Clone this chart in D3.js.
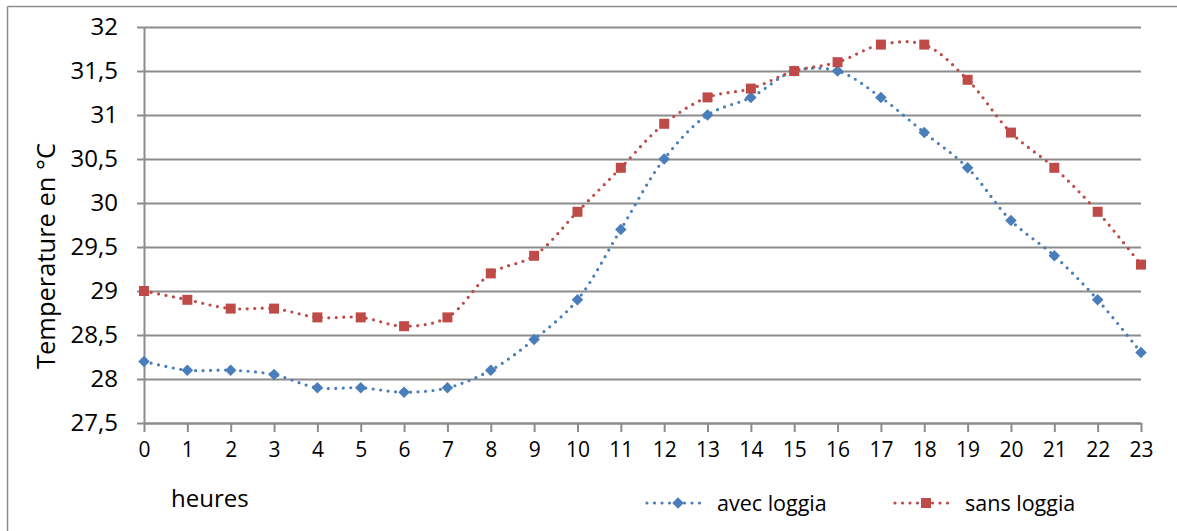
<!DOCTYPE html>
<html><head><meta charset="utf-8">
<script src="https://cdn.jsdelivr.net/npm/d3@7"></script>
<style>
html,body{margin:0;padding:0;background:#fff;}
svg{display:block;}
text{font-family:"Open Sans",sans-serif;fill:#000;}
</style></head>
<body>
<script>
const hours = [0,1,2,3,4,5,6,7,8,9,10,11,12,13,14,15,16,17,18,19,20,21,22,23];
const avecLoggia = [28.2,28.1,28.1,28.05,27.9,27.9,27.85,27.9,28.1,28.45,28.9,29.7,30.5,31.0,31.2,31.5,31.5,31.2,30.8,30.4,29.8,29.4,28.9,28.3];
const sansLoggia = [29.0,28.9,28.8,28.8,28.7,28.7,28.6,28.7,29.2,29.4,29.9,30.4,30.9,31.2,31.3,31.5,31.6,31.8,31.8,31.4,30.8,30.4,29.9,29.3];
const yTicks = [27.5,28,28.5,29,29.5,30,30.5,31,31.5,32];
const seriesNames = ["avec loggia","sans loggia"];
const seriesColors = ["#4a7ebb","#be4b48"];
const xTitle = "heures";
const yTitle = "Temperature en °C";

const W = 1177, H = 531;
const svg = d3.select("body").append("svg").attr("width", W).attr("height", H);

// outer frame
svg.append("line").attr("x1",7.5).attr("x2",7.5).attr("y1",6.5).attr("y2",H).attr("stroke","#8c8c8c").attr("stroke-width",1.5);
svg.append("line").attr("x1",7.5).attr("x2",W).attr("y1",6.5).attr("y2",6.5).attr("stroke","#8c8c8c").attr("stroke-width",1.5);

const x = d3.scaleLinear().domain([0,23]).range([144,1141]);
const y = d3.scaleLinear().domain([27.5,32]).range([423,27]);
const fmt = d => String(d).replace(".", ",");

// gridlines
const grid = svg.append("g").attr("transform","translate(144,0)")
  .call(d3.axisLeft(y).tickValues(yTicks).tickSize(-(1141-144)).tickFormat(""));
grid.select(".domain").remove();
grid.selectAll("line").attr("stroke","#8c8c8c").attr("stroke-width",2);

// y axis
const ya = svg.append("g").attr("transform","translate(144,0)")
  .call(d3.axisLeft(y).tickValues(yTicks).tickSize(7).tickPadding(19).tickSizeOuter(0).tickFormat(fmt));
ya.select(".domain").attr("stroke","#8c8c8c").attr("stroke-width",2);
ya.selectAll("line").attr("stroke","#8c8c8c").attr("stroke-width",2);
ya.selectAll("text").style("font-size","24px").style("font-family","Open Sans").attr("fill","#000");

// x axis
const xa = svg.append("g").attr("transform","translate(0,423)")
  .call(d3.axisBottom(x).tickValues(hours).tickSize(9).tickPadding(10).tickSizeOuter(0).tickFormat(d3.format("d")));
xa.select(".domain").attr("stroke","#8c8c8c").attr("stroke-width",2);
xa.selectAll("line").attr("stroke","#8c8c8c").attr("stroke-width",2);
xa.selectAll("text").style("font-size","21px").style("font-family","Open Sans").attr("fill","#000");

// titles
svg.append("text").attr("x",171).attr("y",507).style("font-size","24px").text(xTitle);
svg.append("text").attr("transform","translate(55,256) rotate(-90)").attr("text-anchor","middle")
  .style("font-size","25.5px").text(yTitle);

const line = d3.line().x((d,i)=>x(hours[i])).y(d=>y(d)).curve(d3.curveCatmullRom.alpha(0.5));
const data = [avecLoggia, sansLoggia];
const diamond = d3.symbol().type(d3.symbolDiamond2).size(85);
const square = d3.symbol().type(d3.symbolSquare).size(100);
const symbols = [diamond, square];

data.forEach((vals, si) => {
  svg.append("path").datum(vals).attr("d", line).attr("fill","none")
    .attr("stroke", seriesColors[si]).attr("stroke-width",3.2)
    .attr("stroke-linecap","round").attr("stroke-dasharray","0 7.5");
  svg.append("g").selectAll("path").data(vals).join("path")
    .attr("transform",(d,i)=>`translate(${x(hours[i])},${y(d)})`)
    .attr("d", symbols[si]).attr("fill", seriesColors[si]);
});

// legend
const legendX = [647, 895];
const legendY = 503;
seriesNames.forEach((name, si) => {
  const g = svg.append("g");
  g.append("line").attr("x1",legendX[si]).attr("x2",legendX[si]+60).attr("y1",legendY).attr("y2",legendY)
    .attr("stroke",seriesColors[si]).attr("stroke-width",3.2).attr("stroke-linecap","round").attr("stroke-dasharray","0 7.5");
  g.append("path").attr("transform",`translate(${legendX[si]+31},${legendY})`).attr("d",symbols[si]).attr("fill",seriesColors[si]);
  g.append("text").attr("x",legendX[si]+70).attr("y",legendY+8).style("font-size","21.5px").text(name);
});
</script>
</body></html>
